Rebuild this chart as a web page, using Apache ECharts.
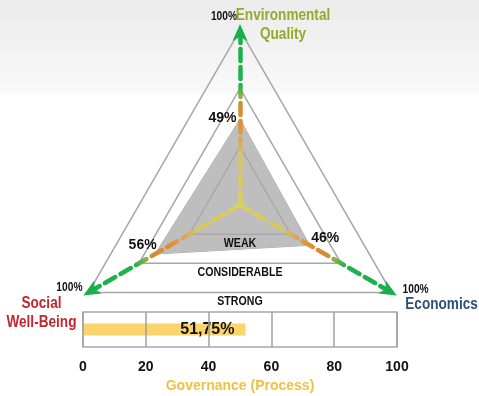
<!DOCTYPE html>
<html>
<head>
<meta charset="utf-8">
<script src="https://cdn.jsdelivr.net/npm/echarts@6/dist/echarts.min.js"></script>
<style>html,body{margin:0;padding:0;background:#fff}#c{width:479px;height:396px}</style>
</head>
<body>
<div id="c"></div>
<script>
// ---- data ----
const indicators = ['Environmental Quality', 'Social Well-Being', 'Economics'];
const nameLines = [['Environmental', 'Quality'], ['Social', 'Well-Being'], ['Economics']];
const pillarValues = [49, 56, 46];
const levelLabels = ['WEAK', 'CONSIDERABLE', 'STRONG'];
const maxValue = 100;
const governanceCategories = ['Governance (Process)'];
const governanceValues = [51.75];
const govTicks = [0, 20, 40, 60, 80, 100];

// ---- layout / style ----
const FONT = "'Liberation Sans', Arial, sans-serif";
const CX = 240, CY = 205, R = 175;
const SX = 0.85;
const nameColors = ['#9aa62e', '#c1272d', '#2d4e78'];
const arrowColor = '#18b04b';

const chart = echarts.init(document.getElementById('c'), null, {renderer: 'canvas'});

const angles = [90, 210, 330].map(a => a * Math.PI / 180);
const vtx = angles.map(a => [CX + R * Math.cos(a), CY - R * Math.sin(a)]);

const graphics = [];
// arrow heads at the end of each indicator axis
angles.forEach(a => {
  const ux = Math.cos(a), uy = -Math.sin(a);
  const px = -uy, py = ux;
  const P = (r, w) => [CX + ux * r + px * w, CY + uy * r + py * w];
  graphics.push({
    type: 'polygon', z: 20,
    shape: {points: [P(R + 6, 0), P(R - 11, 7.5), P(R - 7, 0), P(R - 11, -7.5)]},
    style: {fill: arrowColor}
  });
});
// level labels below each split triangle's bottom edge
levelLabels.forEach((t, i) => {
  const f = (i + 1) / levelLabels.length;
  graphics.push({
    type: 'text', x: CX, y: CY + R * f / 2 + 9, scaleX: SX,
    style: {text: t, font: 'bold 12.5px ' + FONT, fill: '#111', align: 'center', verticalAlign: 'middle'}, z: 10
  });
});
// 100% tags & names
const pctPos = [[-3, -13, 'right'], [-6, -5, 'right'], [11, -3, 'left']];
const namePos = [[43, -24], [-47, 2], [50, 3]];
vtx.forEach((v, i) => {
  graphics.push({
    type: 'text', x: v[0] + pctPos[i][0], y: v[1] + pctPos[i][1], scaleX: SX,
    style: {text: maxValue + '%', font: 'bold 12px ' + FONT, fill: '#111', align: pctPos[i][2], verticalAlign: 'middle'}, z: 10
  });
  graphics.push({
    type: 'text', x: v[0] + namePos[i][0], y: v[1] + namePos[i][1], scaleX: SX,
    style: {text: nameLines[i].join('\n'), font: 'bold 16px ' + FONT, lineHeight: 19, fill: nameColors[i], align: 'center', verticalAlign: 'top'}, z: 10
  });
});

const axisGradient = {
  type: 'radial', x: CX, y: CY, r: R, global: true,
  colorStops: [
    {offset: 0, color: '#d8d05e'},
    {offset: 0.28, color: '#d9c462'},
    {offset: 0.36, color: '#d6a862'},
    {offset: 0.46, color: '#e08f34'},
    {offset: 0.56, color: '#d98a32'},
    {offset: 0.62, color: '#8fb043'},
    {offset: 0.69, color: '#22b14c'},
    {offset: 1, color: arrowColor}
  ]
};

function pctLabel(dim, pos, off) {
  return {
    show: true, position: pos, distance: 3, offset: off,
    fontFamily: FONT, fontWeight: 'bold', fontSize: 14, color: '#111',
    formatter: p => {
      const d = p.dimensionIndex;
      if (d !== dim) return '';
      const v = Array.isArray(p.value) ? p.value[d] : p.value;
      return v + '%';
    }
  };
}

chart.setOption({
  animation: false,
  backgroundColor: {
    type: 'linear', x: 0, y: 0, x2: 0, y2: 1,
    colorStops: [
      {offset: 0, color: '#ebebeb'},
      {offset: 0.23, color: '#f9f9f9'},
      {offset: 0.24, color: '#ffffff'},
      {offset: 1, color: '#ffffff'}
    ]
  },
  textStyle: {fontFamily: FONT},
  graphic: graphics,
  radar: {
    z: 3,
    center: [CX, CY],
    radius: R,
    startAngle: 90,
    shape: 'polygon',
    splitNumber: 3,
    indicator: indicators.map(n => ({name: n, min: 0, max: maxValue})),
    axisName: {show: false},
    splitArea: {show: false},
    splitLine: {lineStyle: {color: '#a8a8a8', width: 1.5}},
    axisLine: {
      show: true,
      symbol: 'none',
      lineStyle: {color: axisGradient, width: 4.5, type: [12, 6]}
    },
    axisTick: {show: false},
    axisLabel: {show: false}
  },
  grid: {
    left: 83, right: 82, top: 312, height: 35,
    show: true, borderColor: '#a8a8a8', borderWidth: 1.5, backgroundColor: 'transparent'
  },
  xAxis: {
    type: 'value', min: govTicks[0], max: govTicks[govTicks.length - 1], interval: govTicks[1] - govTicks[0],
    z: 5,
    name: governanceCategories[0], nameLocation: 'middle', nameGap: 32,
    nameTextStyle: {fontFamily: FONT, fontWeight: 'bold', fontSize: 14, color: '#f0c040'},
    axisLine: {show: false}, axisTick: {show: false},
    axisLabel: {fontFamily: FONT, fontWeight: 'bold', fontSize: 14, color: '#111', margin: 13},
    splitLine: {show: true, lineStyle: {color: '#a0a0a0', width: 1.5}}
  },
  yAxis: {
    type: 'category', data: governanceCategories, show: false
  },
  series: [
    {
      type: 'radar', z: 2,
      symbol: 'none',
      lineStyle: {color: '#a8a8a8', width: 1},
      areaStyle: {color: '#bebebe', opacity: 1},
      data: [{value: pillarValues, name: 'Sustainability'}]
    },
    {
      type: 'radar', z: 6,
      symbol: 'circle', symbolSize: 1,
      itemStyle: {color: 'rgba(0,0,0,0)'},
      lineStyle: {opacity: 0},
      data: [
        {value: pillarValues, label: pctLabel(0, 'left', [0, -1])},
        {value: pillarValues, label: pctLabel(1, 'left', [5, -9])},
        {value: pillarValues, label: pctLabel(2, 'right', [-2, -7])}
      ]
    },
    {
      type: 'bar',
      data: governanceValues,
      barWidth: 12,
      itemStyle: {color: '#fcd46c'},
      label: {
        show: true, position: 'insideRight', distance: 11,
        fontFamily: FONT, fontWeight: 'bold', fontSize: 16, color: '#111',
        formatter: p => String(p.value).replace('.', ',') + '%'
      }
    }
  ]
});
</script>
</body>
</html>
